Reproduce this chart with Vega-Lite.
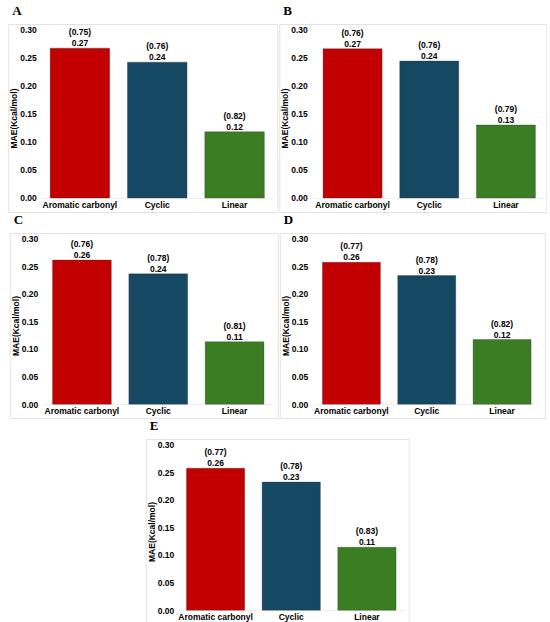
{
  "$schema": "https://vega.github.io/schema/vega-lite/v6.json",
  "description": "MAE by molecule group for five models (A-E), with R values in brackets.",
  "background": "white",
  "padding": {"left": 7, "top": 4, "right": 0, "bottom": 0},
  "datasets": {
    "mae": [
      {"panel": "A", "group": "Aromatic carbonyl", "mae": 0.267, "r": "(0.75)"},
      {"panel": "A", "group": "Cyclic", "mae": 0.242, "r": "(0.76)"},
      {"panel": "A", "group": "Linear", "mae": 0.118, "r": "(0.82)"},
      {"panel": "B", "group": "Aromatic carbonyl", "mae": 0.266, "r": "(0.76)"},
      {"panel": "B", "group": "Cyclic", "mae": 0.244, "r": "(0.76)"},
      {"panel": "B", "group": "Linear", "mae": 0.13, "r": "(0.79)"},
      {"panel": "C", "group": "Aromatic carbonyl", "mae": 0.261, "r": "(0.76)"},
      {"panel": "C", "group": "Cyclic", "mae": 0.236, "r": "(0.78)"},
      {"panel": "C", "group": "Linear", "mae": 0.113, "r": "(0.81)"},
      {"panel": "D", "group": "Aromatic carbonyl", "mae": 0.257, "r": "(0.77)"},
      {"panel": "D", "group": "Cyclic", "mae": 0.233, "r": "(0.78)"},
      {"panel": "D", "group": "Linear", "mae": 0.117, "r": "(0.82)"},
      {"panel": "E", "group": "Aromatic carbonyl", "mae": 0.257, "r": "(0.77)"},
      {"panel": "E", "group": "Cyclic", "mae": 0.232, "r": "(0.78)"},
      {"panel": "E", "group": "Linear", "mae": 0.114, "r": "(0.83)"}
    ]
  },
  "spacing": 0,
  "center": true,
  "vconcat": [
    {
      "spacing": 0,
      "hconcat": [
        {
          "title": "A",
          "width": 269,
          "height": 188,
          "data": {"name": "mae"},
          "transform": [{"filter": "datum.panel == 'A'"}],
          "encoding": {
            "x": {"field": "group", "type": "nominal", "sort": ["Aromatic carbonyl", "Cyclic", "Linear"],
                  "scale": {"range": [33, 265], "paddingInner": 0.23, "paddingOuter": 0.115},
                  "axis": {"title": null, "labelAngle": 0, "ticks": false, "offset": -14, "labelPadding": 2, "domainColor": "#eeeeee"}},
            "y": {"field": "mae", "type": "quantitative",
                  "scale": {"domain": [-0.025, 0.31], "nice": false, "zero": false},
                  "axis": {"title": "MAE(Kcal/mol)", "values": [0, 0.05, 0.1, 0.15, 0.2, 0.25, 0.3], "format": ".2f", "offset": -30, "ticks": false, "domain": false, "grid": false, "labelPadding": 2, "titlePadding": 1, "labelFlush": false}}
          },
          "layer": [
            {"mark": {"type": "bar", "stroke": "#2a2a2a", "strokeWidth": 0.5, "strokeOpacity": 0.6},
             "encoding": {"y2": {"datum": 0}, "color": {"field": "group", "type": "nominal", "legend": null, "scale": {"domain": ["Aromatic carbonyl", "Cyclic", "Linear"], "range": ["#c20000", "#154862", "#3b7d23"]}}}},
            {"mark": {"type": "text", "dy": -13, "baseline": "alphabetic", "fontSize": 8.5, "fontWeight": "bold", "color": "black"},
             "encoding": {"text": {"field": "r"}}},
            {"mark": {"type": "text", "dy": -2, "baseline": "alphabetic", "fontSize": 8.5, "fontWeight": "bold", "color": "black"},
             "encoding": {"text": {"field": "mae", "type": "quantitative", "format": ".2f"}}}
          ]
        },
        {
          "title": "B",
          "width": 267,
          "height": 188,
          "data": {"name": "mae"},
          "transform": [{"filter": "datum.panel == 'B'"}],
          "encoding": {
            "x": {"field": "group", "type": "nominal", "sort": ["Aromatic carbonyl", "Cyclic", "Linear"],
                  "scale": {"range": [35, 265], "paddingInner": 0.23, "paddingOuter": 0.115},
                  "axis": {"title": null, "labelAngle": 0, "ticks": false, "offset": -14, "labelPadding": 2, "domainColor": "#eeeeee"}},
            "y": {"field": "mae", "type": "quantitative",
                  "scale": {"domain": [-0.025, 0.31], "nice": false, "zero": false},
                  "axis": {"title": "MAE(Kcal/mol)", "values": [0, 0.05, 0.1, 0.15, 0.2, 0.25, 0.3], "format": ".2f", "offset": -30, "ticks": false, "domain": false, "grid": false, "labelPadding": 2, "titlePadding": 1, "labelFlush": false}}
          },
          "layer": [
            {"mark": {"type": "bar", "stroke": "#2a2a2a", "strokeWidth": 0.5, "strokeOpacity": 0.6},
             "encoding": {"y2": {"datum": 0}, "color": {"field": "group", "type": "nominal", "legend": null, "scale": {"domain": ["Aromatic carbonyl", "Cyclic", "Linear"], "range": ["#c20000", "#154862", "#3b7d23"]}}}},
            {"mark": {"type": "text", "dy": -13, "baseline": "alphabetic", "fontSize": 8.5, "fontWeight": "bold", "color": "black"},
             "encoding": {"text": {"field": "r"}}},
            {"mark": {"type": "text", "dy": -2, "baseline": "alphabetic", "fontSize": 8.5, "fontWeight": "bold", "color": "black"},
             "encoding": {"text": {"field": "mae", "type": "quantitative", "format": ".2f"}}}
          ]
        }
      ]
    },
    {
      "spacing": 0,
      "hconcat": [
        {
          "title": "C",
          "width": 268,
          "height": 185,
          "data": {"name": "mae"},
          "transform": [{"filter": "datum.panel == 'C'"}],
          "encoding": {
            "x": {"field": "group", "type": "nominal", "sort": ["Aromatic carbonyl", "Cyclic", "Linear"],
                  "scale": {"range": [34, 263], "paddingInner": 0.23, "paddingOuter": 0.115},
                  "axis": {"title": null, "labelAngle": 0, "ticks": false, "offset": -14, "labelPadding": 2, "domainColor": "#eeeeee"}},
            "y": {"field": "mae", "type": "quantitative",
                  "scale": {"domain": [-0.025, 0.31], "nice": false, "zero": false},
                  "axis": {"title": "MAE(Kcal/mol)", "values": [0, 0.05, 0.1, 0.15, 0.2, 0.25, 0.3], "format": ".2f", "offset": -30, "ticks": false, "domain": false, "grid": false, "labelPadding": 2, "titlePadding": 1, "labelFlush": false}}
          },
          "layer": [
            {"mark": {"type": "bar", "stroke": "#2a2a2a", "strokeWidth": 0.5, "strokeOpacity": 0.6},
             "encoding": {"y2": {"datum": 0}, "color": {"field": "group", "type": "nominal", "legend": null, "scale": {"domain": ["Aromatic carbonyl", "Cyclic", "Linear"], "range": ["#c20000", "#154862", "#3b7d23"]}}}},
            {"mark": {"type": "text", "dy": -13, "baseline": "alphabetic", "fontSize": 8.5, "fontWeight": "bold", "color": "black"},
             "encoding": {"text": {"field": "r"}}},
            {"mark": {"type": "text", "dy": -2, "baseline": "alphabetic", "fontSize": 8.5, "fontWeight": "bold", "color": "black"},
             "encoding": {"text": {"field": "mae", "type": "quantitative", "format": ".2f"}}}
          ]
        },
        {
          "title": "D",
          "width": 265,
          "height": 185,
          "data": {"name": "mae"},
          "transform": [{"filter": "datum.panel == 'D'"}],
          "encoding": {
            "x": {"field": "group", "type": "nominal", "sort": ["Aromatic carbonyl", "Cyclic", "Linear"],
                  "scale": {"range": [34, 260], "paddingInner": 0.23, "paddingOuter": 0.115},
                  "axis": {"title": null, "labelAngle": 0, "ticks": false, "offset": -14, "labelPadding": 2, "domainColor": "#eeeeee"}},
            "y": {"field": "mae", "type": "quantitative",
                  "scale": {"domain": [-0.025, 0.31], "nice": false, "zero": false},
                  "axis": {"title": "MAE(Kcal/mol)", "values": [0, 0.05, 0.1, 0.15, 0.2, 0.25, 0.3], "format": ".2f", "offset": -30, "ticks": false, "domain": false, "grid": false, "labelPadding": 2, "titlePadding": 1, "labelFlush": false}}
          },
          "layer": [
            {"mark": {"type": "bar", "stroke": "#2a2a2a", "strokeWidth": 0.5, "strokeOpacity": 0.6},
             "encoding": {"y2": {"datum": 0}, "color": {"field": "group", "type": "nominal", "legend": null, "scale": {"domain": ["Aromatic carbonyl", "Cyclic", "Linear"], "range": ["#c20000", "#154862", "#3b7d23"]}}}},
            {"mark": {"type": "text", "dy": -13, "baseline": "alphabetic", "fontSize": 8.5, "fontWeight": "bold", "color": "black"},
             "encoding": {"text": {"field": "r"}}},
            {"mark": {"type": "text", "dy": -2, "baseline": "alphabetic", "fontSize": 8.5, "fontWeight": "bold", "color": "black"},
             "encoding": {"text": {"field": "mae", "type": "quantitative", "format": ".2f"}}}
          ]
        }
      ]
    },
    {
      "title": "E",
      "width": 263,
      "height": 185,
      "data": {"name": "mae"},
      "transform": [{"filter": "datum.panel == 'E'"}],
      "encoding": {
        "x": {"field": "group", "type": "nominal", "sort": ["Aromatic carbonyl", "Cyclic", "Linear"],
              "scale": {"range": [32, 259], "paddingInner": 0.23, "paddingOuter": 0.115},
              "axis": {"title": null, "labelAngle": 0, "ticks": false, "offset": -14, "labelPadding": 2, "domainColor": "#eeeeee"}},
        "y": {"field": "mae", "type": "quantitative",
              "scale": {"domain": [-0.025, 0.31], "nice": false, "zero": false},
              "axis": {"title": "MAE(Kcal/mol)", "values": [0, 0.05, 0.1, 0.15, 0.2, 0.25, 0.3], "format": ".2f", "offset": -30, "ticks": false, "domain": false, "grid": false, "labelPadding": 2, "titlePadding": 1, "labelFlush": false}}
      },
      "layer": [
        {"mark": {"type": "bar", "stroke": "#2a2a2a", "strokeWidth": 0.5, "strokeOpacity": 0.6},
         "encoding": {"y2": {"datum": 0}, "color": {"field": "group", "type": "nominal", "legend": null, "scale": {"domain": ["Aromatic carbonyl", "Cyclic", "Linear"], "range": ["#c20000", "#154862", "#3b7d23"]}}}},
        {"mark": {"type": "text", "dy": -13, "baseline": "alphabetic", "fontSize": 8.5, "fontWeight": "bold", "color": "black"},
         "encoding": {"text": {"field": "r"}}},
        {"mark": {"type": "text", "dy": -2, "baseline": "alphabetic", "fontSize": 8.5, "fontWeight": "bold", "color": "black"},
         "encoding": {"text": {"field": "mae", "type": "quantitative", "format": ".2f"}}}
      ]
    }
  ],
  "config": {
    "font": "Liberation Sans",
    "view": {"stroke": "#e3e3e3", "strokeWidth": 1},
    "axis": {
      "labelFont": "Liberation Sans", "labelFontSize": 8.5, "labelFontWeight": "bold", "labelColor": "#000000",
      "titleFont": "Liberation Sans", "titleFontSize": 8.5, "titleFontWeight": "bold", "titleColor": "#000000"
    },
    "title": {"anchor": "start", "frame": "group", "font": "Liberation Serif", "fontSize": 13, "fontWeight": "bold", "color": "#000000", "offset": 6, "dx": 4}
  }
}
